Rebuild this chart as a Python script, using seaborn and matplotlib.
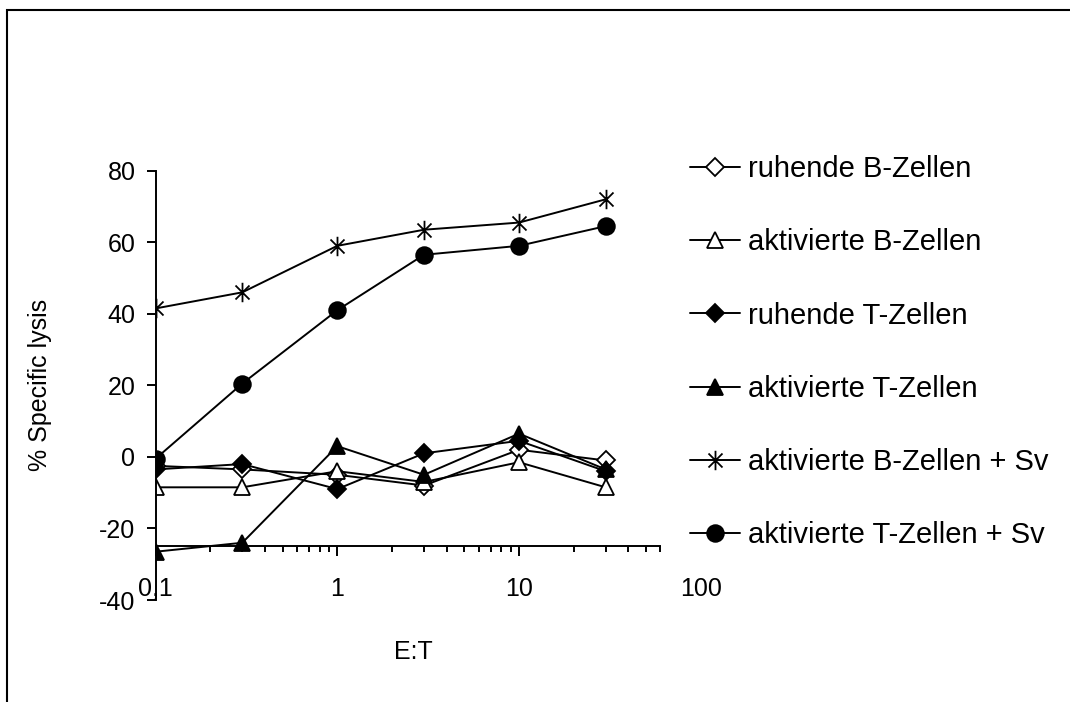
import matplotlib
matplotlib.use("Agg")
import matplotlib.pyplot as plt
import seaborn as sns
from matplotlib.path import Path
from matplotlib.patches import Rectangle
from matplotlib.ticker import FixedLocator, FixedFormatter, NullFormatter

# ---- data ----
et_ratio = [0.1, 0.3, 1, 3, 10, 30]
ruhende_b = [-2.5, -3.5, -5, -8, 2, -1]
aktivierte_b = [-8.5, -8.5, -4, -7, -1.5, -8.5]
ruhende_t = [-3.5, -2, -9, 1, 4.5, -4]
aktivierte_t = [-26.5, -24, 3, -5, 6.5, -3.5]
aktivierte_b_sv = [41.5, 46, 59, 63.5, 65.5, 72]
aktivierte_t_sv = [-0.5, 20.5, 41, 56.5, 59, 64.5]

series_names = ["ruhende B-Zellen", "aktivierte B-Zellen", "ruhende T-Zellen",
                "aktivierte T-Zellen", "aktivierte B-Zellen + Sv",
                "aktivierte T-Zellen + Sv"]
series_values = [ruhende_b, aktivierte_b, ruhende_t, aktivierte_t,
                 aktivierte_b_sv, aktivierte_t_sv]

x_tick_values = [0.1, 1, 10, 100]
x_tick_labels = ["0,1", "1", "10", "100"]
x_minor_values = [0.2, 0.3, 0.4, 0.5, 0.6, 0.7, 0.8, 0.9,
                  2, 3, 4, 5, 6, 7, 8, 9, 20, 30, 40, 50, 60]
y_tick_values = [-40, -20, 0, 20, 40, 60, 80]

# ---- styling ----
sns.set_theme(style="white")
plt.rcParams["font.family"] = ["Liberation Sans", "DejaVu Sans"]

star = Path([(0, -1), (0, 1), (-0.72, -0.72), (0.72, 0.72), (-0.72, 0.72), (0.72, -0.72)],
            [Path.MOVETO, Path.LINETO] * 3)

styles = [
    dict(marker="D", markersize=9.5, markerfacecolor="white"),
    dict(marker="^", markersize=12, markerfacecolor="white"),
    dict(marker="D", markersize=9.5, markerfacecolor="black"),
    dict(marker="^", markersize=12, markerfacecolor="black"),
    dict(marker=star, markersize=14, markerfacecolor="none"),
    dict(marker="o", markersize=12, markerfacecolor="black"),
]

FS = 18      # axis text
FS_LEG = 21  # legend text
W, H = 1070, 702
fig = plt.figure(figsize=(W / 100, H / 100), dpi=100)
fig.patch.set_facecolor("white")
ax = fig.add_axes([155.6 / W, 1 - 600 / H, (700.7 - 155.6) / W, (600 - 170.7) / H])
ax.set_facecolor("white")

for name, vals, st in zip(series_names, series_values, styles):
    sns.lineplot(x=et_ratio, y=vals, ax=ax, color="black", linewidth=1.4,
                 markeredgecolor="black", markeredgewidth=1.3, label=name,
                 legend=False, **st)

ax.set_xscale("log")
ax.set_xlim(0.1, 100)
ax.set_ylim(-40, 80)

for s in ["top", "right"]:
    ax.spines[s].set_visible(False)
for s in ["left", "bottom"]:
    ax.spines[s].set_color("black")
    ax.spines[s].set_linewidth(1.4)
ax.spines["bottom"].set_position(("data", -25))
ax.spines["bottom"].set_bounds(0.1, 60)

ax.xaxis.set_major_locator(FixedLocator(x_tick_values))
ax.xaxis.set_major_formatter(FixedFormatter(x_tick_labels))
ax.xaxis.set_minor_locator(FixedLocator(x_minor_values))
ax.xaxis.set_minor_formatter(NullFormatter())
ax.set_yticks(y_tick_values)
ax.set_yticklabels([str(v) for v in y_tick_values])

ax.tick_params(axis="x", which="major", direction="out", length=7, width=1.4,
               color="black", labelsize=FS, labelcolor="black", pad=15, bottom=True)
ax.tick_params(axis="x", which="minor", direction="out", length=4.5, width=1.4,
               color="black", bottom=True)
ax.tick_params(axis="y", which="major", direction="out", length=6.5, width=1.4,
               color="black", labelsize=FS, labelcolor="black", pad=8, left=True)
ax.xaxis.get_major_ticks()[3].tick1line.set_visible(False)

ax.set_xlabel("E:T", fontsize=FS, color="black")
ax.xaxis.set_label_coords(0.472, -0.093)
ax.set_ylabel("% Specific lysis", fontsize=FS, color="black")
ax.yaxis.set_label_coords(-0.190, 0.5)
ax.grid(False)

ax.legend(loc="upper left", bbox_to_anchor=(690 / W, 0.779),
          bbox_transform=fig.transFigure, frameon=False, fontsize=FS_LEG,
          handlelength=1.71, handletextpad=0.27, labelspacing=1.55,
          borderpad=0, borderaxespad=0, labelcolor="black")

fig.add_artist(Rectangle((7 / W, -0.5), 2, 0.5 + (1 - 10 / H),
                         transform=fig.transFigure, fill=False,
                         linewidth=1.5, edgecolor="black"))

fig.savefig("out.png", dpi=100, facecolor="white")
